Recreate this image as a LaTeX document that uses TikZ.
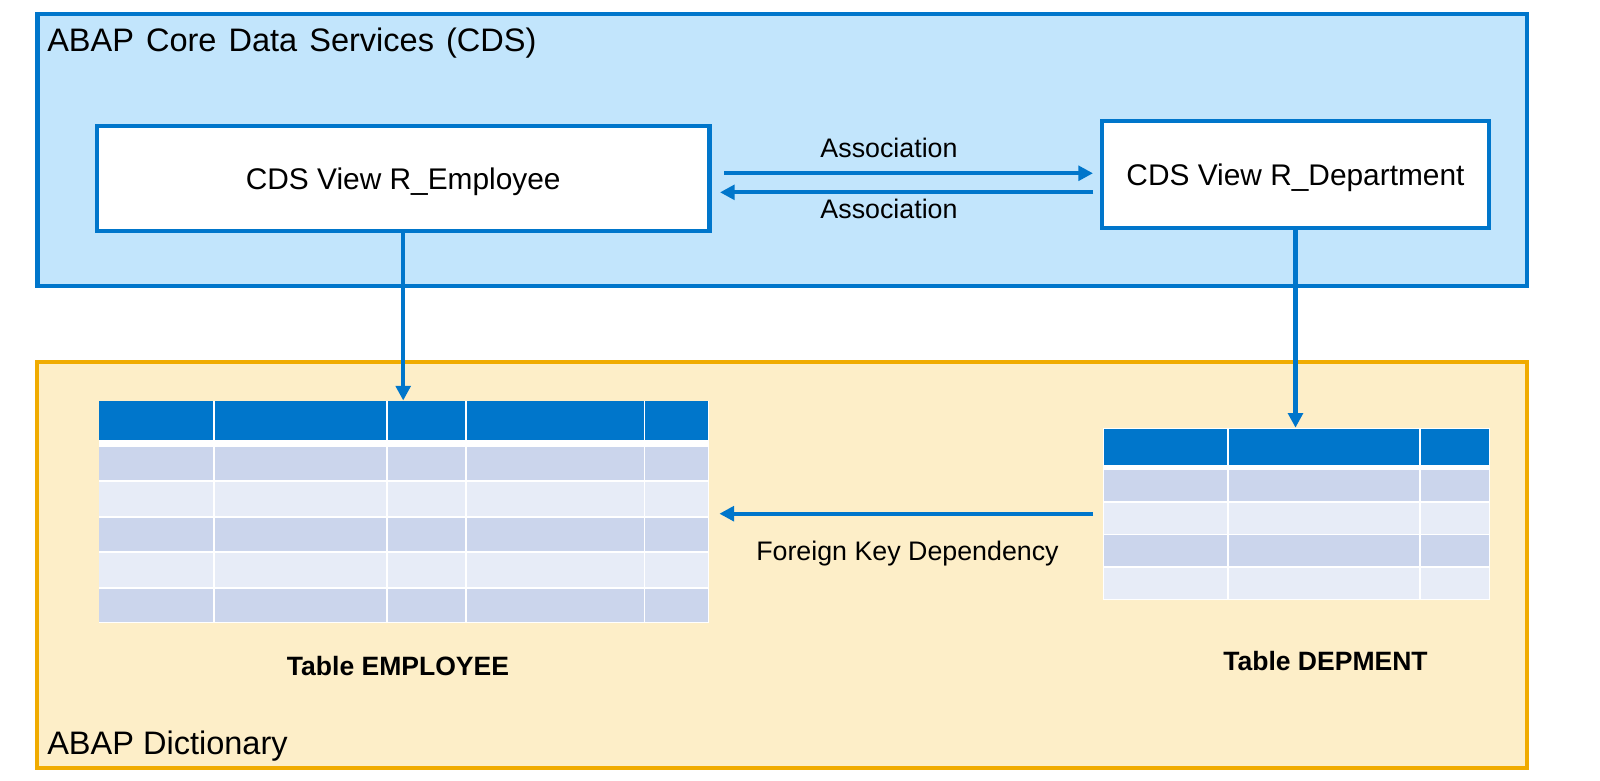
\documentclass[tikz,border=0pt]{standalone}
\usepackage{fontspec}
\setmainfont{Liberation Sans}
\usetikzlibrary{arrows.meta}

\definecolor{sapblue}{RGB}{0,118,203}
\definecolor{cdsfill}{RGB}{194,229,252}
\definecolor{ddicorange}{RGB}{240,171,0}
\definecolor{ddicfill}{RGB}{253,238,200}
\definecolor{rowdark}{RGB}{203,213,236}
\definecolor{rowlight}{RGB}{231,236,247}

\tikzset{
  layerbox/.style={rectangle, line width=3.2pt, outer sep=0pt, inner sep=0pt},
  viewbox/.style={rectangle, draw=sapblue, fill=white, line width=3.2pt, outer sep=0pt,
    text depth=0pt, font=\fontsize{22.4pt}{27pt}\selectfont},
  tablebox/.style={rectangle, draw=none, outer sep=0pt, inner sep=0pt},
  link/.style={draw=sapblue, line width=3.2pt, -{Triangle[length=11pt,width=11pt]}},
  layertext/.style={anchor=base west, inner sep=0pt, font=\fontsize{24.4pt}{29pt}\selectfont},
  linktext/.style={anchor=base, inner sep=0pt, font=\fontsize{20.1pt}{24pt}\selectfont},
  tabletext/.style={anchor=base, inner sep=0pt, font=\bfseries\fontsize{19.9pt}{24pt}\selectfont}
}

\begin{document}
\begin{tikzpicture}[x=0.75pt,y=0.75pt,yscale=-1,xscale=1]
\useasboundingbox (0,0) rectangle (1600,781);

%Shape: Layer boxes
\node[layerbox, draw=sapblue, fill=cdsfill, minimum width=1117.1pt, minimum height=204pt] (cds) at (782.25,150) {};
\node[layerbox, draw=ddicorange, fill=ddicfill, minimum width=1117.5pt, minimum height=304.3pt] (ddic) at (782,565.2) {};

%Shape: CDS views
\node[viewbox, minimum width=459.4pt, minimum height=78.75pt] (vemp) at (403.2,178.2) {CDS View R\_Employee};
\node[viewbox, minimum width=290.25pt, minimum height=80.7pt] (vdep) at (1295.5,174.5) {CDS View R\_Department};

%Shape: Tables
\node[tablebox, minimum width=458pt, minimum height=167.1pt] (tabemp) at (403.85,511.9) {};
\node[tablebox, minimum width=290.4pt, minimum height=129pt] (tabdep) at (1296.2,513.7) {};

% Table EMPLOYEE cells
\fill[white] (98.5,400.5) rectangle (709.2,623.3);
\foreach \ya/\yb/\c in {400.5/441/sapblue, 445.7/481.2/rowdark, 481.2/516.7/rowlight, 516.7/552.2/rowdark, 552.2/587.7/rowlight, 587.7/623.3/rowdark}
  \foreach \xa/\xb in {98.5/214.3, 214.3/386.7, 386.7/466.3, 466.3/644.4, 644.4/709.2}
    \fill[\c] (\xa+0.9,\ya+0.9) rectangle (\xb-0.9,\yb-0.9);

% Table DEPMENT cells
\fill[white] (1102.6,427.7) rectangle (1489.8,599.7);
\foreach \ya/\yb/\c in {427.7/465.7/sapblue, 469.3/501.9/rowdark, 501.9/534.5/rowlight, 534.5/567.1/rowdark, 567.1/599.7/rowlight}
  \foreach \xa/\xb in {1102.6/1227.6, 1227.6/1419.9, 1419.9/1489.8}
    \fill[\c] (\xa+0.9,\ya+0.9) rectangle (\xb-0.9,\yb-0.9);

%Straight Lines: associations
\draw[link, shorten <=10.9pt, shorten >=6.75pt] ([yshift=-3.7pt]vemp.east) -- ([yshift=-3.7pt]vemp.east -| vdep.west);
\draw[link, shorten <=6.5pt, shorten >=7.9pt] ([yshift=10.6pt]vemp.east -| vdep.west) -- ([yshift=10.6pt]vemp.east);
%Straight Lines: views on tables
\draw[link] (vemp.south) -- (vemp.south |- tabemp.north);
\draw[link] (vdep.south) -- (vdep.south |- tabdep.north);
%Straight Lines: foreign key
\draw[link, shorten <=7.2pt, shorten >=7.65pt] (tabdep.west) -- (tabdep.west -| tabemp.east);

% Text Node
\node[layertext] (cdstitle) at (47,52) {\spaceskip=0.37em\relax ABAP Core Data Services (CDS)};
% Text Node
\node[layertext] (ddictitle) at (47,754.3) {ABAP Dictionary};
% Text Node
\node[linktext] (assoc1) at (889,157.3) {Association};
% Text Node
\node[linktext] (assoc2) at (889,219) {Association};
% Text Node
\node[linktext] (fktext) at (907.5,560) {Foreign Key Dependency};
% Text Node
\node[tabletext] (tabemptext) at (398,675) {Table EMPLOYEE};
% Text Node
\node[tabletext] (tabdeptext) at (1325.5,670) {Table DEPMENT};
\end{tikzpicture}
\end{document}
